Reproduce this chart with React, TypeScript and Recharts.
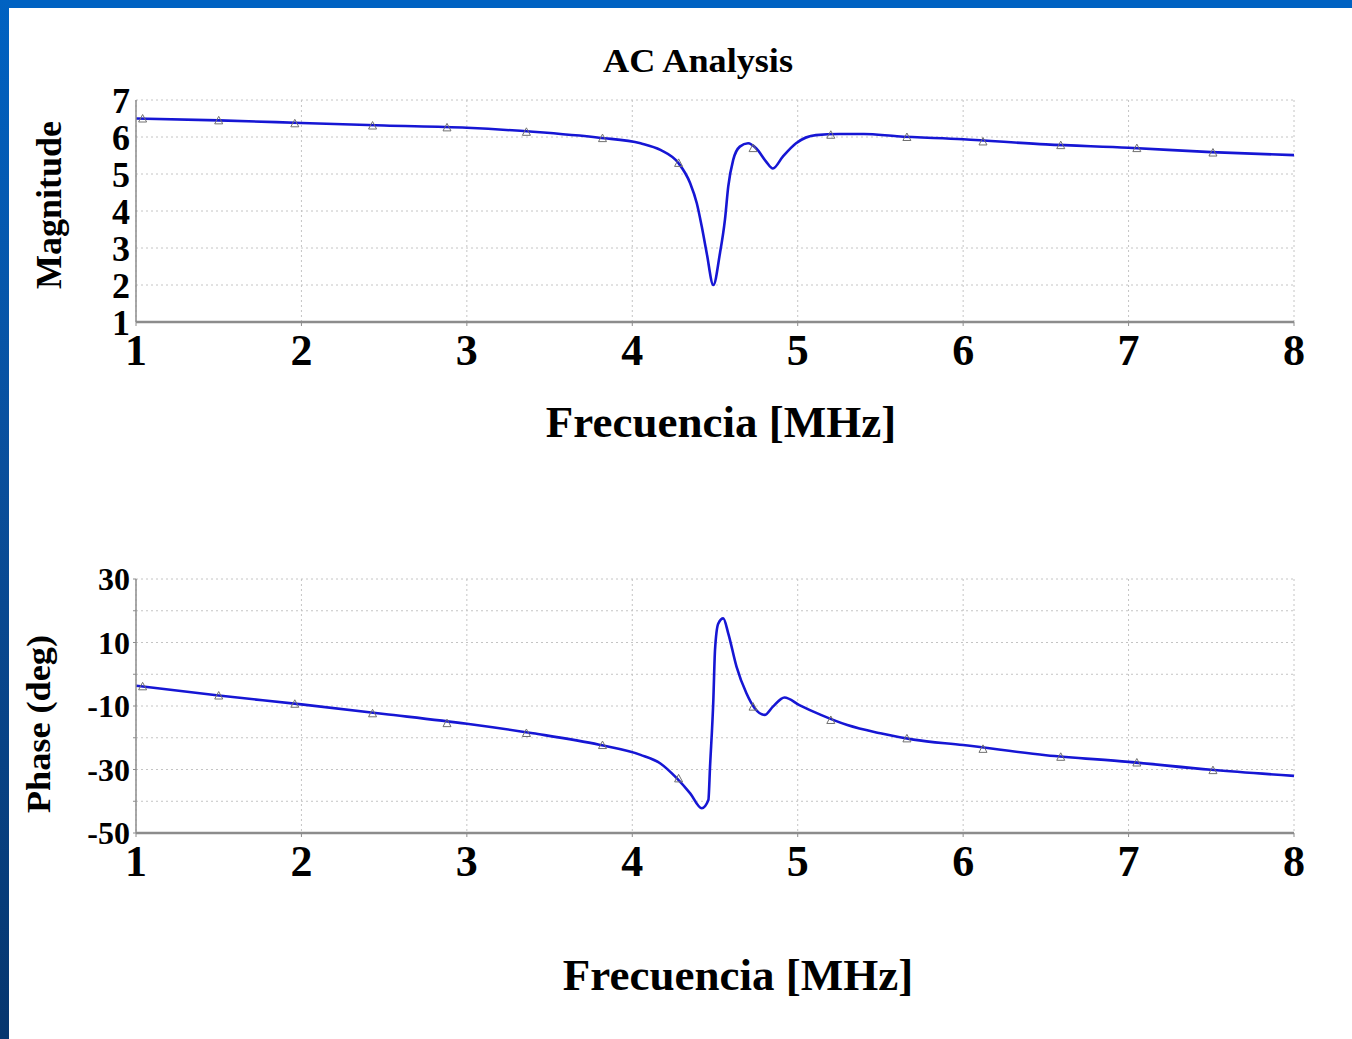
import { CartesianGrid, ComposedChart, Line, Scatter, XAxis, YAxis } from "recharts";

// frequency in MHz
const xTicks = [1, 2, 3, 4, 5, 6, 7, 8];

const magFreq = [1.0, 1.5, 2.0, 2.5, 3.0, 3.4, 3.8, 4.05, 4.17, 4.28, 4.35, 4.39, 4.42, 4.45, 4.49, 4.53, 4.56, 4.58, 4.61, 4.65, 4.7, 4.75, 4.81, 4.85, 4.91, 4.99, 5.11, 5.25, 5.4, 5.6, 6.0, 6.5, 7.0, 7.5, 8.0];
const magnitude = [6.5, 6.45, 6.38, 6.31, 6.25, 6.14, 5.98, 5.83, 5.65, 5.29, 4.75, 4.21, 3.58, 2.86, 2.0, 2.86, 3.76, 4.66, 5.38, 5.74, 5.83, 5.69, 5.33, 5.15, 5.47, 5.83, 6.05, 6.08, 6.08, 6.02, 5.94, 5.8, 5.71, 5.59, 5.51];

const phaseFreq = [1.0, 1.5, 2.0, 2.5, 3.0, 3.4, 3.8, 4.05, 4.17, 4.27, 4.35, 4.42, 4.46, 4.47, 4.49, 4.5, 4.52, 4.55, 4.58, 4.63, 4.69, 4.74, 4.8, 4.85, 4.92, 5.01, 5.14, 5.3, 5.5, 5.7, 6.0, 6.5, 7.0, 7.5, 8.0];
const phase = [-3.6, -6.7, -9.5, -12.5, -15.6, -18.6, -22.2, -25.4, -28.1, -32.8, -37.5, -42.2, -39.6, -29.1, -8.1, 7.6, 16.0, 17.6, 12.9, 2.4, -6.0, -10.7, -12.8, -10.2, -7.3, -9.7, -12.8, -16.0, -18.6, -20.6, -22.3, -25.5, -27.6, -30.1, -32];

// simulator trace markers
const markerFreq = [1.04, 1.5, 1.96, 2.43, 2.88, 3.36, 3.82, 4.28, 4.73, 5.2, 5.66, 6.12, 6.59, 7.05, 7.51];
const magMarkers = [6.5, 6.45, 6.37, 6.31, 6.26, 6.14, 5.97, 5.3, 5.7, 6.06, 6.0, 5.88, 5.78, 5.7, 5.58];
const phaseMarkers = [-3.8, -6.7, -9.3, -12.3, -15.4, -18.5, -22.3, -32.8, -10.2, -14.4, -20.2, -23.5, -26.0, -27.8, -30.2];

const magTicks = [1, 2, 3, 4, 5, 6, 7];
const phaseTicks = [-50, -40, -30, -20, -10, 0, 10, 20, 30];
const phaseLabels = [30, 10, -10, -30, -50];

const magData = magFreq.map((f, i) => ({ f, v: magnitude[i] }));
const phaseData = phaseFreq.map((f, i) => ({ f, v: phase[i] }));
const magMarkerData = markerFreq.map((f, i) => ({ f, v: magMarkers[i] }));
const phaseMarkerData = markerFreq.map((f, i) => ({ f, v: phaseMarkers[i] }));

const serif = "'Liberation Serif', 'Times New Roman', serif";
const lineColor = "#1616d4";

const FreqTick = (props: any) => {
  const { x, y, payload } = props;
  return (
    <text x={x} y={y} dy={37} textAnchor="middle" fontFamily={serif} fontWeight="bold" fontSize={44} fill="#000">
      {payload.value}
    </text>
  );
};

const Marker = (props: any) => {
  const { cx, cy } = props;
  if (cx == null || cy == null) return null;
  return <path d={`M${cx - 4},${cy + 3.5} L${cx},${cy - 4} L${cx + 4},${cy + 3.5} Z`} fill="none" stroke="#707070" strokeWidth={1} />;
};

function Panel({ top, height, marginTop, plotHeight, data, markers, ticks, domain, yFormatter, yTickSize, yFont }: any) {
  return (
    <div style={{ position: "absolute", left: 0, top, width: 1352, height }}>
      <ComposedChart width={1352} height={height} margin={{ top: marginTop, right: 58, bottom: height - marginTop - 50 - plotHeight, left: 76 }}>
        <CartesianGrid stroke="#c4c4c4" strokeDasharray="2 3" />
        <XAxis
          dataKey="f"
          type="number"
          domain={[1, 8]}
          ticks={xTicks}
          height={50}
          axisLine={{ stroke: "#8c8c8c", strokeWidth: 2.5 }}
          tickLine={{ stroke: "#8c8c8c" }}
          tickSize={4}
          tickMargin={2}
          tick={<FreqTick />}
          allowDataOverflow
        />
        <YAxis
          dataKey="v"
          type="number"
          width={60}
          domain={domain}
          ticks={ticks}
          interval={0}
          tickFormatter={yFormatter}
          axisLine={{ stroke: "#8c8c8c", strokeWidth: 1.5 }}
          tickLine={{ stroke: "#8c8c8c" }}
          tickSize={yTickSize}
          tickMargin={6 - yTickSize}
          tick={{ fontFamily: serif, fontWeight: "bold", fontSize: yFont, fill: "#000" }}
          allowDataOverflow
        />
        <Line data={data} dataKey="v" type="monotone" stroke={lineColor} strokeWidth={2.6} dot={false} isAnimationActive={false} />
        <Scatter data={markers} dataKey="v" shape={<Marker />} isAnimationActive={false} />
      </ComposedChart>
    </div>
  );
}

export default function App() {
  return (
    <div style={{ position: "absolute", left: 0, top: 0, width: 1352, height: 1039, background: "#fff", overflow: "hidden" }}>
      <div style={{ position: "absolute", left: 0, top: 0, width: 1352, height: 8, background: "#0062c2" }} />
      <div style={{ position: "absolute", left: 0, top: 0, width: 9, height: 1039, background: "linear-gradient(180deg, #0062c2 0%, #0a4f9c 45%, #06366e 100%)" }} />

      <Panel top={0} height={400} marginTop={100} plotHeight={222} data={magData} markers={magMarkerData} ticks={magTicks} domain={[1, 7]} yFormatter={(v: number) => String(v)} yTickSize={0} yFont={36} />
      <Panel
        top={500}
        height={400}
        marginTop={79}
        plotHeight={254}
        data={phaseData}
        markers={phaseMarkerData}
        ticks={phaseTicks}
        domain={[-50, 30]}
        yFormatter={(v: number) => (phaseLabels.includes(v) ? String(v) : "")}
        yTickSize={3}
        yFont={32}
      />

      <svg width={1352} height={1039} style={{ position: "absolute", left: 0, top: 0, pointerEvents: "none" }}>
        <g fontFamily={serif} fontWeight="bold" fill="#000">
          <text x={698} y={72} textAnchor="middle" fontSize={34} textLength={190} lengthAdjust="spacingAndGlyphs">AC Analysis</text>
          <text transform="translate(61,205) rotate(-90)" textAnchor="middle" fontSize={36}>Magnitude</text>
          <text x={721} y={437} textAnchor="middle" fontSize={45}>Frecuencia [MHz]</text>
          <text transform="translate(50,724) rotate(-90)" textAnchor="middle" fontSize={34} textLength={178} lengthAdjust="spacingAndGlyphs">Phase (deg)</text>
          <text x={738} y={990} textAnchor="middle" fontSize={45}>Frecuencia [MHz]</text>
        </g>
      </svg>
    </div>
  );
}
